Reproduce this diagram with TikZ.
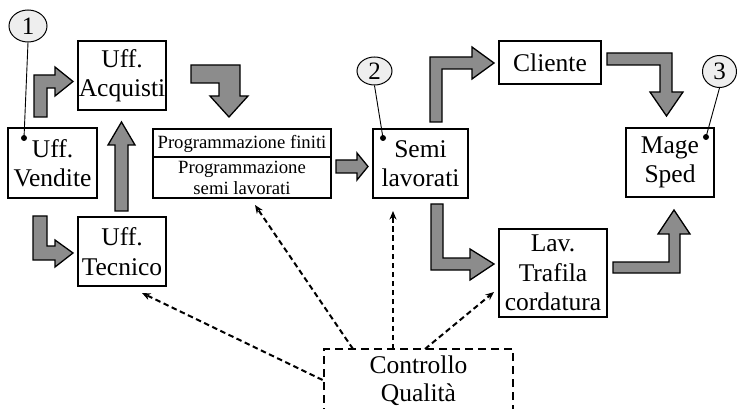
\documentclass[tikz,border=0pt]{standalone}
\usepackage{fontspec}
\setmainfont{Liberation Serif}
\usetikzlibrary{arrows.meta,shapes.geometric}
\definecolor{blockgray}{RGB}{140,140,140}
\definecolor{tagfill}{RGB}{238,238,238}

\begin{document}
\begin{tikzpicture}[x=1pt,y=-1pt,
  box/.style={draw, line width=1.3pt, align=center, inner sep=0pt,
              font=\fontsize{25.5}{29.5}\selectfont},
  plain/.style={align=center, inner sep=0pt},
  blockarrow/.style={draw, fill=blockgray, line width=1.3pt, line join=miter},
  tag/.style={draw, ellipse, fill=tagfill, line width=1pt, inner sep=0pt,
              font=\fontsize{25}{25}\selectfont},
  tagdot/.style={circle, fill=black, inner sep=0pt, minimum size=6pt},
  leader/.style={line width=0.9pt},
  qabox/.style={draw, line width=2.8pt, dash pattern=on 8pt off 5pt, inner sep=0pt},
  qaarrow/.style={line width=2pt, dash pattern=on 5.5pt off 3.5pt,
                  -{Stealth[length=8.5pt,width=7pt]}}
]
\useasboundingbox (0,0) rectangle (737,409);

% offices and production steps
\node[box, minimum width=89pt, minimum height=70pt] (vend) at (52.5,163) {Uff.\\Vendite};
\node[box, minimum width=88pt, minimum height=69pt] (acq) at (122,75.5) {Uff.\\Acquisti};
\node[box, minimum width=88pt, minimum height=69pt] (tec) at (122,251.5) {Uff.\\Tecnico};
\node[box, minimum width=178pt, minimum height=69pt] (prog) at (242,163.5) {};
\draw[line width=1.3pt] (prog.west |- 0,157) -- (prog.east |- 0,157);
\node[plain, font=\fontsize{18.7}{21}\selectfont] (progfin) at (242,143.5) {Programmazione finiti};
\node[plain, font=\fontsize{18.7}{21}\selectfont] (progsemi) at (242,178) {Programmazione\\semi lavorati};
\node[box, minimum width=95pt, minimum height=69pt] (semi) at (420.5,163.5) {Semi\\lavorati};
\node[box, minimum width=102pt, minimum height=43pt] (cli) at (550,62.5) {Cliente};
\node[box, minimum width=88pt, minimum height=69pt] (mage) at (670,162.5) {Mage\\Sped};
\node[box, minimum width=108pt, minimum height=88pt] (lav) at (553,273) {Lav.\\Trafila\\cordatura};

% quality control (box runs past the lower edge)
\node[qabox, minimum width=189pt, minimum height=96pt] (ctrl) at (418.5,397) {};
\node[plain, font=\fontsize{25.5}{28}\selectfont] (ctrltxt) at (418.5,381) {Controllo\\Qualità};

% block arrows of the material flow
\draw[blockarrow] (34,117) -- (34,75) -- (55,75) -- (55,67) -- (73,81.5) -- (55,96) -- (55,88) -- (47,88) -- (47,117) -- cycle;
\draw[blockarrow] (33,216) -- (47,216) -- (47,246) -- (55,246) -- (55,240) -- (73,253) -- (55,267) -- (55,260) -- (33,260) -- cycle;
\draw[blockarrow] (115,211) -- (115,145) -- (108,145) -- (121.5,122) -- (135,145) -- (128,145) -- (128,211) -- cycle;
\draw[blockarrow] (191,65) -- (240,65) -- (240,96) -- (248,96) -- (229,117) -- (210,96) -- (219,96) -- (219,83) -- (191,83) -- cycle;
\draw[blockarrow] (336,160) -- (357,160) -- (357,153) -- (368,166.5) -- (357,180) -- (357,173) -- (336,173) -- cycle;
\draw[blockarrow] (430,122) -- (430,57) -- (472,57) -- (472,47) -- (494,63) -- (472,79) -- (472,69) -- (442,69) -- (442,122) -- cycle;
\draw[blockarrow] (607,53) -- (672,53) -- (672,92) -- (683,92) -- (666.5,116) -- (650,92) -- (660,92) -- (660,65) -- (607,65) -- cycle;
\draw[blockarrow] (431,204) -- (443,204) -- (443,258) -- (470,258) -- (470,249) -- (494,264) -- (470,280) -- (470,270) -- (431,270) -- cycle;
\draw[blockarrow] (613,262) -- (669,262) -- (669,234) -- (658,234) -- (674,210) -- (690,234) -- (680,234) -- (680,273) -- (613,273) -- cycle;

% numbered tags
\node[tag, minimum width=38pt, minimum height=32pt] (tag1) at (28,26) {1};
\node[tagdot] (dot1) at (24,138) {};
\draw[leader] (tag1.south) -- (dot1.center);
\node[tag, minimum width=35pt, minimum height=28pt] (tag2) at (374.5,71) {2};
\node[tagdot] (dot2) at (383,138) {};
\draw[leader] (tag2.south) -- (dot2.center);
\node[tag, minimum width=34pt, minimum height=32pt] (tag3) at (719.5,71.5) {3};
\node[tagdot] (dot3) at (706,137) {};
\draw[leader] (tag3.south) -- (dot3.center);

% quality-control links
\coordinate (q1) at (ctrl.west |- 0,380);
\coordinate (q2) at (353,349);
\coordinate (q3) at (393,349);
\coordinate (q4) at (425,349);
\coordinate (t1) at (142,293);
\coordinate (t2) at (255,205);
\coordinate (t3) at (393,211);
\coordinate (t4) at (494,292);
\draw[qaarrow] (q1) -- (t1);
\draw[qaarrow] (q2) -- (t2);
\draw[qaarrow] (q3) -- (t3);
\draw[qaarrow] (q4) -- (t4);
\end{tikzpicture}
\end{document}
